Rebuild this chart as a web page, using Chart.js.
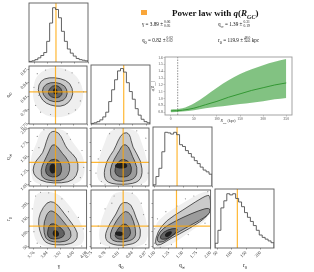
<!DOCTYPE html>
<html>
<head>
<meta charset="utf-8">
<script src="https://cdn.jsdelivr.net/npm/chart.js@4.4.1/dist/chart.umd.min.js"></script>
<style>
  body { margin: 0; background: #fff; width: 314px; height: 272px; position: relative; overflow: hidden; font-family: "Liberation Serif", "DejaVu Serif", serif; }
  canvas { position: absolute; }
  .t { position: absolute; white-space: nowrap; color: #111; line-height: 1; }
  .fr { display: inline-block; vertical-align: middle; font-size: 3.6px; line-height: 3.7px; margin-left: 1px; }
  .fr span { display: block; }
  .rot { transform: translate(-50%, -50%) rotate(-90deg); }
  .ctr { transform: translate(-50%, -50%); }
</style>
</head>
<body>
<script>
// posterior summary: median, +err, -err
const PARAM_LABELS = ['γ', 'q<sub>0</sub>', 'q<sub>∞</sub>', 'r<sub>0</sub>'];
const MEDIANS = [3.89, 0.82, 1.39, 119.9];
const ERR_UP = ['0.06', '0.02', '0.31', '48.0'];
const ERR_LO = ['0.05', '0.02', '0.19', '34.6'];

// axis ranges and ticks for gamma, q0, q_inf, r0
const RANGES = [[3.73, 4.08], [0.749, 0.877], [0.97, 2.0], [43, 246]];
const TICKS = [[3.76, 3.84, 3.92, 4.00, 4.08], [0.75, 0.78, 0.81, 0.84, 0.87], [1.00, 1.25, 1.50, 1.75, 2.00], [50, 100, 150, 200]];
const TICK_DEC = [2, 2, 2, 0];

// marginal histograms, 20 bins over each axis range (height in % of panel)
const HIST_GAMMA = [1, 2, 4, 7, 11, 16, 35, 66, 92, 89, 75, 52, 35, 22, 15, 10, 6, 4, 3, 2];
const HIST_Q0 = [1, 2, 4, 7, 12, 20, 38, 58, 75, 90, 94, 88, 70, 55, 42, 26, 15, 8, 4, 2];
const HIST_QINF = [2, 16, 30, 58, 91, 90, 88, 91, 87, 70, 67, 60, 55, 49, 43, 38, 32, 27, 24, 20];
const HIST_R0 = [8, 30, 68, 80, 92, 90, 92, 84, 78, 70, 60, 52, 45, 38, 30, 22, 18, 15, 12, 9];

// 2d panels: sample cloud, contour levels and core (data coordinates)
const CLOUD_A = [[3.75, 0.80], [3.76, 0.845], [3.80, 0.865], [3.87, 0.875], [3.95, 0.872], [4.02, 0.855], [4.06, 0.825], [4.05, 0.79], [3.99, 0.77], [3.90, 0.762], [3.81, 0.77]];
const OUTER_A = [[3.78, 0.825], [3.80, 0.845], [3.85, 0.852], [3.92, 0.850], [3.98, 0.84], [4.00, 0.815], [3.97, 0.795], [3.92, 0.787], [3.86, 0.79], [3.81, 0.80]];
const MID_A = [[3.805, 0.822], [3.83, 0.838], [3.89, 0.842], [3.95, 0.834], [3.965, 0.815], [3.94, 0.80], [3.88, 0.797], [3.83, 0.805]];
const INNER_A = [[3.845, 0.822], [3.87, 0.834], [3.91, 0.834], [3.935, 0.82], [3.92, 0.808], [3.88, 0.806], [3.85, 0.812]];
const CORE_A = [[3.87, 0.822], [3.885, 0.829], [3.90, 0.826], [3.905, 0.816], [3.885, 0.813]];
const DOTS_A = [[3.76, 0.83], [3.78, 0.86], [3.80, 0.775], [3.83, 0.868], [3.95, 0.868], [4.03, 0.84], [4.04, 0.80], [3.97, 0.772], [3.86, 0.77], [4.06, 0.82], [3.77, 0.79], [3.99, 0.862], [3.79, 0.812], [4.01, 0.78]];

const CLOUD_B = [[3.80, 1.99], [3.95, 1.99], [3.99, 1.75], [4.06, 1.5], [4.07, 1.2], [4.03, 1.0], [3.90, 0.98], [3.76, 1.0], [3.74, 1.2], [3.74, 1.5], [3.78, 1.75]];
const OUTER_B = [[3.86, 1.95], [3.91, 1.93], [3.94, 1.75], [3.96, 1.62], [4.02, 1.47], [4.03, 1.25], [4.0, 1.07], [3.93, 1.02], [3.83, 1.03], [3.77, 1.12], [3.75, 1.25], [3.77, 1.42], [3.815, 1.55], [3.835, 1.77]];
const MID_B = [[3.87, 1.72], [3.90, 1.68], [3.93, 1.55], [3.97, 1.42], [3.98, 1.25], [3.95, 1.08], [3.88, 1.05], [3.81, 1.10], [3.80, 1.25], [3.82, 1.40], [3.85, 1.58]];
const INNER_B = [[3.86, 1.45], [3.91, 1.44], [3.93, 1.30], [3.92, 1.15], [3.87, 1.12], [3.83, 1.18], [3.83, 1.32]];
const CORE_B = [[3.86, 1.37], [3.89, 1.36], [3.895, 1.22], [3.87, 1.18], [3.85, 1.25]];
const DOTS_B = [[3.75, 1.6], [3.78, 1.85], [3.82, 1.97], [3.96, 1.9], [4.05, 1.6], [4.06, 1.3], [3.74, 1.05], [3.80, 0.99], [4.0, 0.99], [3.98, 1.8], [3.79, 1.65], [4.04, 1.12]];

const CLOUD_C = [[3.78, 240], [3.90, 240], [3.98, 190], [4.06, 120], [4.07, 60], [4.0, 45], [3.82, 45], [3.76, 70], [3.75, 150], [3.76, 210]];
const OUTER_C = [[3.84, 205], [3.88, 205], [3.91, 190], [3.945, 163], [3.99, 130], [4.03, 95], [4.015, 65], [3.95, 52], [3.84, 56], [3.805, 82], [3.785, 128], [3.795, 165]];
const MID_C = [[3.85, 175], [3.89, 170], [3.94, 135], [3.99, 100], [3.98, 72], [3.92, 62], [3.84, 68], [3.82, 95], [3.82, 135]];
const INNER_C = [[3.86, 130], [3.90, 125], [3.95, 100], [3.94, 80], [3.88, 72], [3.84, 82], [3.845, 110]];
const CORE_C = [[3.88, 108], [3.91, 102], [3.915, 86], [3.89, 80], [3.87, 90]];
const DOTS_C = [[3.77, 225], [3.80, 238], [3.75, 180], [3.76, 100], [3.80, 48], [4.05, 50], [4.06, 110], [3.97, 170], [3.93, 215], [3.85, 236], [4.03, 150], [3.78, 60]];

const CLOUD_D = [[0.79, 1.99], [0.85, 1.99], [0.86, 1.75], [0.875, 1.4], [0.877, 1.05], [0.85, 0.98], [0.78, 0.98], [0.76, 1.1], [0.765, 1.45], [0.78, 1.75]];
const OUTER_D = [[0.82, 1.93], [0.835, 1.9], [0.84, 1.66], [0.86, 1.42], [0.863, 1.13], [0.845, 1.0], [0.79, 1.0], [0.776, 1.13], [0.783, 1.42], [0.80, 1.6], [0.808, 1.77]];
const MID_D = [[0.82, 1.72], [0.832, 1.68], [0.84, 1.5], [0.852, 1.3], [0.848, 1.1], [0.82, 1.04], [0.795, 1.08], [0.79, 1.25], [0.80, 1.45], [0.812, 1.6]];
const INNER_D = [[0.815, 1.45], [0.83, 1.43], [0.84, 1.3], [0.835, 1.14], [0.81, 1.12], [0.80, 1.22], [0.805, 1.35]];
const CORE_D = [[0.805, 1.38], [0.828, 1.38], [0.83, 1.30], [0.815, 1.27], [0.80, 1.31]];
const DOTS_D = [[0.76, 1.2], [0.77, 1.6], [0.79, 1.9], [0.85, 1.95], [0.87, 1.6], [0.875, 1.2], [0.86, 1.0], [0.78, 0.99], [0.765, 1.45], [0.80, 1.98], [0.87, 1.82], [0.772, 1.05]];

const CLOUD_E = [[0.80, 240], [0.85, 240], [0.87, 150], [0.877, 80], [0.86, 45], [0.78, 45], [0.765, 70], [0.77, 140], [0.79, 210]];
const OUTER_E = [[0.82, 205], [0.838, 198], [0.848, 150], [0.86, 105], [0.855, 65], [0.825, 50], [0.79, 56], [0.778, 82], [0.79, 128], [0.805, 163], [0.812, 190]];
const MID_E = [[0.825, 175], [0.838, 160], [0.848, 110], [0.847, 75], [0.82, 62], [0.795, 68], [0.79, 90], [0.80, 125], [0.812, 155]];
const INNER_E = [[0.82, 130], [0.832, 122], [0.838, 95], [0.83, 75], [0.81, 72], [0.80, 85], [0.808, 110]];
const CORE_E = [[0.805, 102], [0.82, 100], [0.822, 88], [0.81, 84], [0.80, 92]];
const DOTS_E = [[0.77, 60], [0.765, 120], [0.78, 180], [0.80, 225], [0.84, 235], [0.86, 200], [0.875, 120], [0.87, 55], [0.82, 45], [0.79, 46], [0.795, 200], [0.865, 160]];

const CLOUD_F = [[0.98, 45], [0.98, 120], [1.2, 165], [1.5, 200], [1.8, 235], [2.0, 245], [2.0, 150], [1.7, 110], [1.35, 60], [1.15, 44]];
const OUTER_F = [[1.0, 55], [1.05, 100], [1.21, 140], [1.50, 175], [1.73, 205], [1.97, 232], [2.0, 215], [2.0, 160], [1.62, 110], [1.27, 75], [1.10, 52]];
const MID_F = [[1.03, 65], [1.08, 100], [1.25, 125], [1.50, 150], [1.80, 175], [1.99, 185], [1.99, 160], [1.6, 118], [1.30, 85], [1.15, 62]];
const INNER_F = [[1.08, 75], [1.15, 100], [1.32, 112], [1.42, 110], [1.35, 90], [1.20, 72]];
const CORE_F = [[1.17, 90], [1.25, 103], [1.32, 100], [1.28, 85], [1.20, 80]];
const DOTS_F = [[1.0, 110], [1.05, 145], [1.2, 170], [1.4, 190], [1.7, 225], [1.95, 240], [1.9, 130], [1.6, 90], [1.3, 55], [1.1, 45], [1.0, 60], [1.55, 215], [1.8, 140]];

// inset: q(R_GC) band
const R_GC = [0, 25, 50, 75, 100, 125, 150, 175, 200, 225, 250];
const Q_HI = [0.84, 0.86, 0.93, 1.04, 1.16, 1.27, 1.36, 1.43, 1.49, 1.54, 1.58];
const Q_LO = [0.80, 0.81, 0.83, 0.86, 0.88, 0.90, 0.92, 0.94, 0.96, 0.99, 1.01];
const Q_MED = [0.82, 0.83, 0.86, 0.91, 0.96, 1.02, 1.07, 1.12, 1.16, 1.20, 1.23];
const R_DASH = 15;
const INSET_X = [-12.5, 262.5];
const INSET_Y = [0.76, 1.61];
const INSET_XTICKS = [0, 50, 100, 150, 200, 250];
const INSET_YTICKS = [0.8, 0.9, 1.0, 1.1, 1.2, 1.3, 1.4, 1.5, 1.6];

const SERIF = '"Liberation Serif", "DejaVu Serif", serif';
const ORANGE = 'rgba(255,165,0,0.8)';
const FRAME = '#5a5a5a';
const COL_X = [29, 91, 153, 215];
const ROW_Y = [3, 65, 127, 189];
const SIZE = 59;
const PAD_L = 30, PAD_B = 26, PAD_T = 3, PAD_R = 3;

function mkCanvas(left, top, w, h) {
    const c = document.createElement('canvas');
    c.width = w; c.height = h;
    c.style.left = left + 'px'; c.style.top = top + 'px';
    c.style.width = w + 'px'; c.style.height = h + 'px';
    document.body.appendChild(c);
    return c;
}

const toPts = arr => arr.map(([x, y]) => ({x, y}));

const framePlugin = {
    id: 'frame',
    afterDatasetsDraw(chart) {
        const {ctx, chartArea: a} = chart;
        ctx.save();
        ctx.strokeStyle = chart.options.frameColor || FRAME;
        ctx.lineWidth = 0.9;
        ctx.strokeRect(a.left, a.top, a.right - a.left, a.bottom - a.top);
        ctx.restore();
    }
};

// smooth closed polygons drawn through the chart scales
function contourPlugin(layers) {
    return {
        id: 'contours',
        beforeDatasetsDraw(chart) {
            const {ctx, chartArea: a, scales: {x, y}} = chart;
            ctx.save();
            ctx.beginPath();
            ctx.rect(a.left, a.top, a.right - a.left, a.bottom - a.top);
            ctx.clip();
            layers.forEach(layer => {
                const p = layer.pts.map(([vx, vy]) => [x.getPixelForValue(vx), y.getPixelForValue(vy)]);
                const n = p.length;
                const mid = (i, j) => [(p[i][0] + p[j][0]) / 2, (p[i][1] + p[j][1]) / 2];
                ctx.beginPath();
                const m0 = mid(n - 1, 0);
                ctx.moveTo(m0[0], m0[1]);
                for (let i = 0; i < n; i++) {
                    const m = mid(i, (i + 1) % n);
                    ctx.quadraticCurveTo(p[i][0], p[i][1], m[0], m[1]);
                }
                ctx.closePath();
                ctx.fillStyle = layer.fill;
                ctx.fill();
                if (layer.stroke) {
                    ctx.strokeStyle = '#1a1a1a';
                    ctx.lineWidth = 0.7;
                    ctx.stroke();
                }
            });
            ctx.restore();
        }
    };
}

function axis(p, dir, showLabels, marks) {
    return {
        type: 'linear',
        min: RANGES[p][0],
        max: RANGES[p][1],
        afterBuildTicks: s => { s.ticks = TICKS[p].map(v => ({value: v})); },
        afterFit: s => { if (dir === 'x') s.height = PAD_B; else s.width = PAD_L; },
        ticks: {
            display: showLabels, minRotation: 45, maxRotation: 45, autoSkip: false, padding: 0.5,
            font: {family: SERIF, size: 4.6}, color: '#333',
            callback: v => Number(v).toFixed(TICK_DEC[p])
        },
        grid: {display: marks, drawOnChartArea: false, drawTicks: true, tickLength: 1.5, color: FRAME, lineWidth: 0.6},
        border: {display: false}
    };
}

function baseOptions(scales) {
    return {
        responsive: false, animation: false, devicePixelRatio: 1,
        layout: {padding: {top: PAD_T, right: PAD_R, left: 0, bottom: 0}},
        plugins: {legend: {display: false}, tooltip: {enabled: false}},
        scales
    };
}

function histPanel(idx, counts) {
    const c = mkCanvas(COL_X[idx] - PAD_L, ROW_Y[idx] - PAD_T, SIZE + PAD_L + PAD_R, SIZE + PAD_T + PAD_B);
    const [lo, hi] = RANGES[idx];
    const w = (hi - lo) / counts.length;
    const pts = [{x: lo, y: 0}];
    counts.forEach((v, i) => pts.push({x: lo + i * w, y: v}));
    pts.push({x: hi, y: counts[counts.length - 1]}, {x: hi, y: 0});
    const yScale = {
        type: 'linear', min: 0, max: 100,
        afterFit: s => { s.width = PAD_L; },
        ticks: {display: false}, grid: {display: false}, border: {display: false}
    };
    new Chart(c, {
        type: 'scatter',
        data: {datasets: [
            {type: 'line', data: pts, stepped: true, borderColor: '#505050', borderWidth: 0.9, pointRadius: 0},
            {type: 'line', data: [{x: MEDIANS[idx], y: 0}, {x: MEDIANS[idx], y: 100}], borderColor: ORANGE, borderWidth: 1.2, pointRadius: 0}
        ]},
        options: baseOptions({x: axis(idx, 'x', idx === 3, true), y: yScale}),
        plugins: [framePlugin]
    });
}

function scatterPanel(col, row, layers, dots) {
    const c = mkCanvas(COL_X[col] - PAD_L, ROW_Y[row] - PAD_T, SIZE + PAD_L + PAD_R, SIZE + PAD_T + PAD_B);
    const xr = RANGES[col], yr = RANGES[row];
    new Chart(c, {
        type: 'scatter',
        data: {datasets: [
            {data: toPts(dots), pointRadius: 0.6, backgroundColor: '#8c8c8c', borderWidth: 0},
            {type: 'line', data: [{x: MEDIANS[col], y: yr[0]}, {x: MEDIANS[col], y: yr[1]}], borderColor: ORANGE, borderWidth: 1.2, pointRadius: 0},
            {type: 'line', data: [{x: xr[0], y: MEDIANS[row]}, {x: xr[1], y: MEDIANS[row]}], borderColor: ORANGE, borderWidth: 1.2, pointRadius: 0}
        ]},
        options: baseOptions({x: axis(col, 'x', row === 3, true), y: axis(row, 'y', col === 0, true)}),
        plugins: [contourPlugin(layers), framePlugin]
    });
}

function levels(cloud, outer, mid, inner, core) {
    return [
        {pts: cloud, fill: '#efefef'},
        {pts: outer, fill: '#cacaca', stroke: true},
        {pts: mid, fill: '#9c9c9c', stroke: true},
        {pts: inner, fill: '#626262', stroke: true},
        {pts: core, fill: '#1e1e1e'}
    ];
}

histPanel(0, HIST_GAMMA);
histPanel(1, HIST_Q0);
histPanel(2, HIST_QINF);
histPanel(3, HIST_R0);
scatterPanel(0, 1, levels(CLOUD_A, OUTER_A, MID_A, INNER_A, CORE_A), DOTS_A);
scatterPanel(0, 2, levels(CLOUD_B, OUTER_B, MID_B, INNER_B, CORE_B), DOTS_B);
scatterPanel(0, 3, levels(CLOUD_C, OUTER_C, MID_C, INNER_C, CORE_C), DOTS_C);
scatterPanel(1, 2, levels(CLOUD_D, OUTER_D, MID_D, INNER_D, CORE_D), DOTS_D);
scatterPanel(1, 3, levels(CLOUD_E, OUTER_E, MID_E, INNER_E, CORE_E), DOTS_E);
scatterPanel(2, 3, levels(CLOUD_F, OUTER_F, MID_F, INNER_F, CORE_F), DOTS_F);

// inset q(R_GC)
const inset = mkCanvas(140, 50, 160, 80);
const insetAxis = (range, ticks, dec, dir) => ({
    type: 'linear', min: range[0], max: range[1],
    afterBuildTicks: s => { s.ticks = ticks.map(v => ({value: v})); },
    afterFit: s => { if (dir === 'x') s.height = 15; else s.width = 25; },
    ticks: {autoSkip: false, padding: 0.8, font: {family: SERIF, size: 3.6}, color: '#444', callback: v => Number(v).toFixed(dec)},
    grid: {display: true, drawOnChartArea: false, drawTicks: true, tickLength: 1.5, color: '#888', lineWidth: 0.5},
    border: {display: false}
});
new Chart(inset, {
    type: 'scatter',
    data: {datasets: [
        {type: 'line', data: R_GC.map((r, i) => ({x: r, y: Q_LO[i]})), borderWidth: 0, pointRadius: 0, fill: false, cubicInterpolationMode: 'monotone'},
        {type: 'line', data: R_GC.map((r, i) => ({x: r, y: Q_HI[i]})), borderWidth: 0, pointRadius: 0, fill: '-1', backgroundColor: 'rgba(40,150,40,0.58)', cubicInterpolationMode: 'monotone'},
        {type: 'line', data: R_GC.map((r, i) => ({x: r, y: Q_MED[i]})), borderColor: '#2f8f2f', borderWidth: 0.9, pointRadius: 0, cubicInterpolationMode: 'monotone'},
        {type: 'line', data: [{x: R_DASH, y: INSET_Y[0]}, {x: R_DASH, y: INSET_Y[1]}], borderColor: '#444', borderWidth: 0.6, borderDash: [1.5, 1.2], pointRadius: 0}
    ]},
    options: {
        responsive: false, animation: false, devicePixelRatio: 1,
        frameColor: '#9a9a9a',
        layout: {padding: {top: 7, right: 8, left: 0, bottom: 0}},
        plugins: {legend: {display: false}, tooltip: {enabled: false}, filler: {propagate: false}},
        scales: {x: insetAxis(INSET_X, INSET_XTICKS, 0, 'x'), y: insetAxis(INSET_Y, INSET_YTICKS, 1, 'y')}
    },
    plugins: [framePlugin]
});

// text: legend, title, parameter summary, axis labels
function addText(html, left, top, style, cls) {
    const d = document.createElement('div');
    d.className = 't' + (cls ? ' ' + cls : '');
    d.innerHTML = html;
    d.style.left = left + 'px';
    d.style.top = top + 'px';
    if (style) d.style.cssText += style;
    document.body.appendChild(d);
}

const sq = document.createElement('div');
sq.style.cssText = 'position:absolute;left:141px;top:9.5px;width:5.5px;height:5.5px;background:#f9a63a;';
document.body.appendChild(sq);

addText('Power law with <i>q</i>(<i>R<sub style="font-size:6px">GC</sub></i>)', 172, 8.5, 'font-size:9px;font-weight:bold;');

const statPos = [[142, 25], [142, 40.5], [218, 25], [218, 40.5]];
MEDIANS.forEach((m, i) => {
    const unit = i === 3 ? ' kpc' : '';
    const html = PARAM_LABELS[i] + ' = ' + m.toFixed(i === 3 ? 1 : 2) + ' ±<span class="fr"><span>' + ERR_UP[i] + '</span><span>' + ERR_LO[i] + '</span></span>' + unit;
    addText(html, statPos[i][0], statPos[i][1], 'font-size:5.2px;transform:translateY(-50%);');
});

const xLabelPos = [59, 121, 182, 245];
PARAM_LABELS.forEach((lab, i) => addText(lab, xLabelPos[i], 267, 'font-size:5.5px;', 'ctr'));
[[1, 94.5], [2, 156.5], [3, 218.5]].forEach(([i, y]) => addText(PARAM_LABELS[i], 10, y, 'font-size:5.5px;', 'rot'));

addText('<i>R<sub style="font-size:2.8px">GC</sub></i> (kpc)', 228, 122.5, 'font-size:3.8px;color:#333;', 'ctr');
addText('<i>q</i>(<i>R<sub style="font-size:2.8px">GC</sub></i>)', 155, 86, 'font-size:3.8px;color:#333;', 'rot');
</script>
</body>
</html>
